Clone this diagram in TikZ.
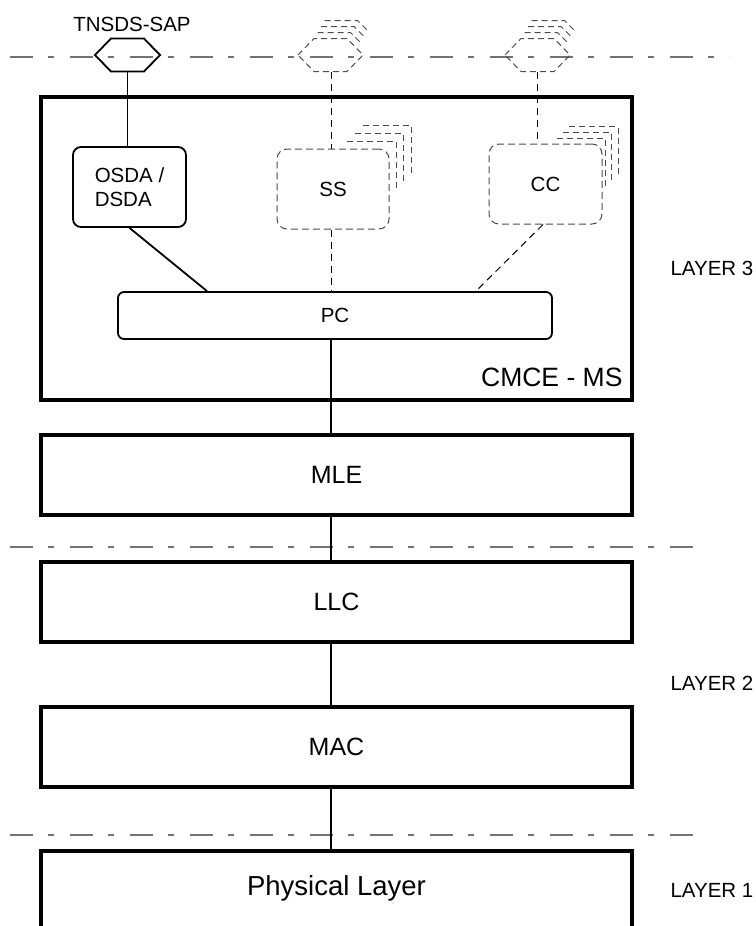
\documentclass[tikz,border=0pt]{standalone}
\usepackage{fontspec}
\setmainfont{Liberation Sans}
\usetikzlibrary{calc}
\begin{document}
\begin{tikzpicture}[x=1pt,y=-1pt,
 lblsmall/.style={font=\fontsize{20.5}{24}\selectfont},
 lblbig/.style={font=\fontsize{25}{30}\selectfont},
 lblhuge/.style={font=\fontsize{27.5}{32}\selectfont},
 heavybox/.style={draw, line width=4.4pt, inner sep=0pt},
 softbox/.style={draw, line width=1.8pt, rounded corners=8pt, inner sep=0pt},
 ghostbox/.style={draw=black!70, line width=1pt, dash pattern=on 7pt off 4pt, rounded corners=10pt, inner sep=0pt},
 ghost/.style={draw=black!70, line width=1pt, dash pattern=on 6pt off 4pt},
 wire/.style={draw, line width=1.8pt},
 dwire/.style={draw, line width=1pt, dash pattern=on 7pt off 5pt},
 layerline/.style={draw=black!55, line width=1.4pt, dash pattern=on 23pt off 15pt on 6pt off 16pt},
]
\useasboundingbox (0,0) rectangle (755,926);

% layer separation lines
\coordinate (l0a) at (10,57);  \coordinate (l0b) at (730,57);
\coordinate (l1a) at (10,547); \coordinate (l1b) at (702,547);
\coordinate (l2a) at (10,835); \coordinate (l2b) at (702,835);
\draw[layerline] (l0a) -- (l0b);
\draw[layerline] (l1a) -- (l1b);
\draw[layerline] (l2a) -- (l2b);

% SAP hexagons
\node[lblsmall, anchor=base] (sap) at (132,31) {TNSDS-SAP};
\draw[line width=1.8pt] (95,55) -- (111,38.5) -- (144,38.5) -- (160,55) -- (144,71.5) -- (111,71.5) -- cycle;
\coordinate (hexAb) at (127.5,71.5);

\draw[ghost] (298,55) -- (314,38.5) -- (347,38.5) -- (363,55) -- (347,71.5) -- (314,71.5) -- cycle;
\foreach \k in {1,2,3}
  \draw[ghost] (314+3.5*\k,38.5-6*\k) -- (347+3.5*\k,38.5-6*\k) -- (357+3.5*\k,48.5-6*\k);
\coordinate (hexBb) at (331,71.5);

\draw[ghost] (505,55) -- (521,38.5) -- (554,38.5) -- (570,55) -- (554,71.5) -- (521,71.5) -- cycle;
\foreach \k in {1,2,3}
  \draw[ghost] (521+3.5*\k,38.5-6*\k) -- (554+3.5*\k,38.5-6*\k) -- (564+3.5*\k,48.5-6*\k);
\coordinate (hexCb) at (537.5,71.5);

% CMCE - MS
\node[heavybox, minimum width=591pt, minimum height=303pt] (cmce) at (336.5,248.5) {};
\node[lblbig, font=\fontsize{26.5}{31}\selectfont, anchor=base east] (cmcelbl) at (626,386) {CMCE - MS};

\node[softbox, lblsmall, align=left, minimum width=113pt, minimum height=80pt] (osda) at (129.5,187) {OSDA /\\DSDA};

\foreach \k/\sx/\ty/\rx/\by in {1/347/141/396/189, 2/355/133/403.5/181, 3/363/125/411.5/173}
  \draw[ghost] (\sx,\ty) -- (\rx,\ty) -- (\rx,\by);
\node[ghostbox, fill=white, lblsmall, minimum width=112pt, minimum height=80pt] (ss) at (333,189) {SS};

\foreach \k/\sx/\ty/\rx/\by in {1/557/138/605.5/187, 2/563/132/611.5/180, 3/569/126.5/618/173.5}
  \draw[ghost] (\sx,\ty) -- (\rx,\ty) -- (\rx,\by);
\node[ghostbox, fill=white, lblsmall, minimum width=113pt, minimum height=80pt] (cc) at (545.5,184) {CC};

\node[softbox, rounded corners=6pt, lblsmall, minimum width=434pt, minimum height=47pt] (pc) at (335,315.5) {PC};

% layer 2 and 1 boxes
\node[heavybox, lblbig, minimum width=591pt, minimum height=80pt] (mle) at (336.5,475) {MLE};
\node[heavybox, lblbig, minimum width=591pt, minimum height=80pt] (llc) at (336.5,602) {LLC};
\node[heavybox, lblbig, minimum width=591pt, minimum height=80pt] (mac) at (336.5,747) {MAC};
\node[lblhuge, minimum width=591pt, minimum height=75pt, inner sep=0pt] (phys) at (336.5,888.5) {Physical Layer};
\draw[line width=4.4pt] ([yshift=-10pt]phys.south west) -- (phys.north west) -- (phys.north east) -- ([yshift=-10pt]phys.south east);

% layer labels
\node[lblsmall, anchor=base west] (lay3) at (667,275) {LAYER 3};
\node[lblsmall, anchor=base west] (lay2) at (667,690) {LAYER 2};
\node[lblsmall, anchor=base west] (lay1) at (667,897) {LAYER 1};

% connectors
\coordinate (spine) at (331,0);
\draw[wire] (hexAb) -- (hexAb |- osda.north);
\draw[wire] (osda.south) -- ([xshift=-128pt]pc.north);
\draw[dwire] (hexBb) -- (hexBb |- ss.north);
\draw[dwire] (ss.south -| hexBb) -- (pc.north -| hexBb);
\draw[dwire] (hexCb) -- (hexCb |- cc.north);
\draw[dwire] ([xshift=-2.5pt]cc.south) -- ([xshift=141pt]pc.north);
\draw[wire] (pc.south -| spine) -- (mle.north -| spine);
\draw[wire] (mle.south -| spine) -- (llc.north -| spine);
\draw[wire] (llc.south -| spine) -- (mac.north -| spine);
\draw[wire] (mac.south -| spine) -- (phys.north -| spine);
\end{tikzpicture}
\end{document}
